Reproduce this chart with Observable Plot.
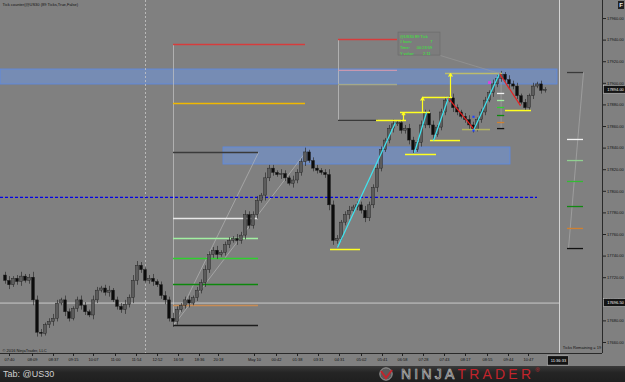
<!DOCTYPE html>
<html><head><meta charset="utf-8">
<script src="https://cdn.jsdelivr.net/npm/d3@7"></script>
<script src="https://cdn.jsdelivr.net/npm/@observablehq/plot@0.6"></script>
<style>
body{margin:0;background:#808080;overflow:hidden;font-family:"Liberation Sans",Arial,sans-serif}
#wrap{position:relative;width:625px;height:382px;background:#808080}
#chart svg{display:block}
#fbtn{position:absolute;right:1px;top:1px;width:6px;height:8px;background:#202020;color:#eee;font:bold 6px "Liberation Sans",Arial,sans-serif;line-height:8px;text-align:center}
#bar{position:absolute;left:0;top:366px;width:625px;height:16px;background:linear-gradient(#3a3a3a,#252525 40%,#1f1f1f)}
#tab{position:absolute;left:3px;top:3px;color:#d0d0d0;font-size:9px}
#logo{position:absolute;left:377px;top:1px;height:14px;display:flex;align-items:center;white-space:nowrap}
#logo .n{color:#2a2a2a;-webkit-text-stroke:0.7px #b8b8b8;font-size:14px;letter-spacing:3.2px;margin-left:4px}
#logo .t{color:#c2242c;font-size:14px;letter-spacing:3.2px}
#logo sup{color:#c2242c;font-size:6px;margin-left:1px;align-self:flex-start;margin-top:1px}
</style></head>
<body>
<div id="wrap">
  <div id="chart"></div>
  <div id="fbtn">F</div>
  <div id="bar"><span id="tab">Tab: @US30</span>
    <span id="logo"><svg width="20" height="14" viewBox="0 0 20 14"><circle cx="9" cy="7" r="6.2" fill="#5a5a5a" stroke="#9a9a9a" stroke-width="1"/><path d="M4 4 L9 11 L15 3" fill="none" stroke="#c2242c" stroke-width="2"/></svg><span class="n">NINJA</span><span class="t">TRADER</span><span style="color:#c2242c;font-size:6px;margin-left:1px;align-self:flex-start">®</span></span>
  </div>
</div>
<script>
// ---- candle closes (one bar per index) ----
const closes = [
17717,17713,17719,17716,17721,17717,17720,17699,17669,17668,
17676,17679,17682,17696,17699,17688,17682,17691,17699,17694,
17688,17685,17699,17708,17710,17706,17708,17699,17693,17690,
17695,17701,17717,17731,17727,17717,17719,17716,17713,17703,
17699,17682,17679,17690,17694,17699,17696,17701,17708,17715,
17727,17741,17745,17741,17743,17750,17754,17756,17754,17759,
17778,17768,17778,17791,17796,17812,17821,17817,17815,17816,
17812,17807,17810,17817,17827,17836,17828,17821,17819,17817,
17815,17787,17754,17756,17771,17778,17782,17785,17787,17782,
17775,17787,17803,17821,17838,17847,17858,17862,17863,17856,
17858,17847,17838,17845,17861,17872,17861,17852,17859,17873,
17884,17886,17877,17873,17869,17866,17861,17857,17866,17873,
17884,17891,17899,17904,17908,17903,17899,17897,17888,17882,
17877,17888,17897,17899,17893,17894];
const wicks = [
3,4,2,3,4,2,3,5,4,3, 2,3,4,3,2,4,3,2,3,4, 3,2,4,3,2,3,4,2,3,3,
4,3,5,4,3,2,3,4,2,3, 4,3,5,3,2,3,4,2,3,3, 4,3,3,4,2,3,3,2,4,3,
4,3,3,4,2,5,3,3,2,4, 3,2,4,3,3,4,2,3,3,2, 3,5,4,3,2,3,4,2,3,3,
4,3,3,4,3,2,3,4,2,3, 3,4,3,2,4,3,3,4,2,3, 3,2,4,3,2,3,4,3,2,3,
3,2,4,3,3,2,4,3,3,2, 3,2,3,2,3,2];
const firstOpen = 17722;

// ---- axes ----
const priceTicks = [17660,17680,17700,17720,17740,17760,17780,17800,17820,17840,17860,17880,17900,17920,17940,17960];
const timeTicks = [1,6.75,12,17,22,27.5,32.75,38,43.25,48.5,53.25,62.25,67.75,73,78.25,83.5,89,94.25,99.25,104.5,109.75,115,120.5,125.75,130.75];
const timeLabels = ["07:40","08:09","08:37","09:15","10:07","11:00","11:54","12:52","16:58","18:36","20:18","May 10","00:42","01:38","03:31","04:31","05:02","05:41","06:58","07:28","07:43","08:17","08:55","09:44","10:47"];
const xDomain = [-1.25, 149.25];
const yDomain = [17649.8, 17976.7];

// ---- left fibonacci tool ----
const fibLeftPrices = [17935.9,17881.3,17835.9,17774.8,17756.3,17737.8,17713.7,17694.3,17675.7];
const fibLeftColors = ["#d63c3c","#f0b800","#3a3a3a","#e8e8e8","#a2f0a2","#2ed02e","#0c880c","#c88c54","#1c1c1c"];
const fibLeftStart = 42;
const fibLeftEnd = [75,75,63.25,63.25,63.25,63.25,63.25,63.25,63.25];
// ---- second fibonacci tool ----
const fib2Prices = [17940.6,17911.9,17898.9,17865.6];
const fib2Colors = ["#d63c3c","#c898b0","#a4a88a","#3a3a3a"];
const fib2Start = 83.25;
const fib2End = [98,98,98,93.25];
// ---- small fib marks near last swing ----
const fibSmallPrices = [17890.6,17884.1,17877.6,17870.2,17863.7,17858.1];
const fibSmallColors = ["#f2f2f2","#a2f0a2","#2ed02e","#0c880c","#d08030","#111111"];
// ---- right panel fib ----
const fibRightPrices = [17910.0,17848.0,17828.5,17809.1,17785.9,17765.6,17747.0];
const fibRightColors = ["#3a3a3a","#f2f2f2","#90d090","#33bb33","#118811","#d08030","#111111"];

// ---- zones ----
const zoneX1 = [-1.25, 54.5];
const zoneX2 = [138, 126.25];
const zoneLow = [17898.9, 17824.8];
const zoneHigh = [17912.8, 17840.6];

// ---- swing pivots (yellow / khaki) ----
const pivX1 = [92.75,98.75,104.25,110,100,106.25,114.25,125,81.25];
const pivX2 = [100.25,106.25,111.75,124.25,107.75,113.75,121.25,131.5,88.75];
const pivPrice = [17865.6,17873.0,17886.9,17909.1,17834.1,17847.0,17857.2,17874.8,17746.1];
const pivColor = ["#ffff20","#ffff20","#ffff20","#bcbc6c","#ffff20","#ffff20","#b4b462","#ffff20","#ffff20"];
const arrowX = [99.5,104.25,111.25];
const arrowFrom = [17865.6,17873.0,17886.9];
const arrowTo = [17873.0,17886.9,17909.1];

// ---- swing legs ----
const legX1 = [83,102.25,107,117,110.75,123.5];
const legX2 = [97.5,105.25,110.75,123.5,117,128.75];
const legP1 = [17748.0,17835.9,17847.0,17856.3,17886.0,17909.1];
const legP2 = [17863.7,17873.0,17886.9,17909.1,17858.1,17879.4];
const legDir = ["up","up","up","up","down","down"];

// ---- other levels ----
const dashedLevel = 17794.3;
const dashedEnd = 133;
const whiteLevel = 17696.5;
const separatorX = 138.5;
const sessionBreakX = 35;
const lastPrice = 17894;

// ---- tooltip ----
const tipLabels = ["@US30 89 Tick","# bars:","Time:","Y value:"];
const tipValues = ["","7","00:23:59","2.11"];
const tipValueX = [0,106.2,102.8,104.4];
const tipPrices = [17943.6,17938.3,17933.0,17927.8];

// ---- build tables ----
const candles = closes.map((c, i) => {
  const o = i === 0 ? firstOpen : closes[i - 1];
  return {i, open: o, close: c, high: Math.max(o, c) + wicks[i], low: Math.min(o, c) - wicks[i], up: c >= o};
});
const fibLeft = fibLeftPrices.map((p, k) => ({p, c: fibLeftColors[k], x1: fibLeftStart, x2: fibLeftEnd[k]}));
const fib2 = fib2Prices.map((p, k) => ({p, c: fib2Colors[k], x1: fib2Start, x2: fib2End[k]}));
const fibSmall = fibSmallPrices.map((p, k) => ({p, c: fibSmallColors[k], x1: 123, x2: 124.8}));
const fibRight = fibRightPrices.map((p, k) => ({p, c: fibRightColors[k], x1: 140.5, x2: 144.5}));
const zones = zoneX1.map((x, k) => ({x1: x, x2: zoneX2[k], y1: zoneLow[k], y2: zoneHigh[k]}));
const pivots = pivX1.map((x, k) => ({x1: x, x2: pivX2[k], p: pivPrice[k], c: pivColor[k]}));
const arrows = arrowX.map((x, k) => ({x, y1: arrowFrom[k], y2: arrowTo[k]}));
const legs = legX1.map((x, k) => ({x1: x, x2: legX2[k], y1: legP1[k], y2: legP2[k], c: legDir[k] === "up" ? "#3ee6f2" : "#e82020"}));
const tips = tipLabels.map((t, k) => ({t, v: tipValues[k], vx: tipValueX[k], p: tipPrices[k]}));
const labelMap = new Map(timeTicks.map((t, k) => [t, timeLabels[k]]));
const priceTags = [{p: lastPrice, label: lastPrice.toFixed(2)}, {p: whiteLevel, label: whiteLevel.toFixed(2)}];

const chart = Plot.plot({
  width: 625, height: 366,
  marginLeft: 0, marginRight: 23, marginTop: 0, marginBottom: 13,
  style: {background: "#808080", fontFamily: "Liberation Sans, Arial, sans-serif", fontSize: "4px", color: "#111", overflow: "visible"},
  x: {domain: xDomain, axis: null},
  y: {domain: yDomain, axis: null},
  marks: [
    // zones
    Plot.rect(zones, {x1: "x1", x2: "x2", y1: "y1", y2: "y2", fill: "#6a9cf5", fillOpacity: 0.45, stroke: "#5a88e6", strokeWidth: 0.8}),
    // session break & separators
    Plot.ruleX([sessionBreakX], {stroke: "#c8c8c8", strokeDasharray: "2,2", strokeWidth: 0.8}),
    Plot.ruleX([separatorX], {stroke: "#d4d4d4", strokeWidth: 1}),
    // fib tool verticals and diagonals
    Plot.ruleX([fibLeftStart], {y1: fibLeftPrices[8], y2: fibLeftPrices[0], stroke: "#c4c4c4", strokeWidth: 0.7}),
    Plot.ruleX([fib2Start], {y1: fib2Prices[3], y2: fib2Prices[0], stroke: "#c4c4c4", strokeWidth: 0.7}),
    Plot.link([{x1: fibLeftStart, x2: fibLeftEnd[2]}, {x1: fibLeftStart, x2: fibLeftEnd[0]}], {x1: "x1", x2: "x2", y1: fibLeftPrices[8], y2: fibLeftPrices[2], stroke: "#bdbdbd", strokeWidth: 0.6}),
    Plot.link([{x1: 144.5, x2: 140.75}], {x1: "x1", x2: "x2", y1: fibRightPrices[0], y2: fibRightPrices[6], stroke: "#b0b0b0", strokeWidth: 0.6}),
    Plot.link([{x1: 123.9, x2: 123.9}], {x1: "x1", x2: "x2", y1: fibSmallPrices[0] + 18, y2: fibSmallPrices[5], stroke: "#a8a8a8", strokeWidth: 0.6}),
    // levels
    Plot.ruleY([dashedLevel], {x1: xDomain[0], x2: dashedEnd, stroke: "#0000e8", strokeDasharray: "3,2", strokeWidth: 1.2}),
    Plot.ruleY([whiteLevel], {x1: xDomain[0], x2: separatorX, stroke: "#dadada", strokeWidth: 0.8}),
    Plot.ruleY(fibLeft, {y: "p", x1: "x1", x2: "x2", stroke: "c", strokeWidth: 1.6}),
    Plot.ruleY(fib2, {y: "p", x1: "x1", x2: "x2", stroke: "c", strokeWidth: 1.3}),
    Plot.ruleY(fibSmall, {y: "p", x1: "x1", x2: "x2", stroke: "c", strokeWidth: 1.3}),
    Plot.ruleY(fibRight, {y: "p", x1: "x1", x2: "x2", stroke: "c", strokeWidth: 1.3}),
    // candles
    Plot.ruleX(candles, {x: "i", y1: "low", y2: "high", stroke: "#2c2c2c", strokeWidth: 0.7}),
    Plot.rect(candles, {x1: d => d.i - 0.36, x2: d => d.i + 0.36, y1: "open", y2: "close", fill: d => d.up ? "#5c5c5c" : "#0c0c0c", stroke: "#1a1a1a", strokeWidth: 0.4}),
    // pivots
    Plot.ruleY(pivots, {y: "p", x1: "x1", x2: "x2", stroke: "c", strokeWidth: 1.5}),
    Plot.arrow(arrows, {x1: "x", x2: "x", y1: "y1", y2: "y2", stroke: "#ffff20", strokeWidth: 1.2, headLength: 4}),
    // swing legs
    Plot.link(legs, {x1: "x1", x2: "x2", y1: "y1", y2: "y2", stroke: "c", strokeWidth: 1.2}),
    Plot.dot([{x: 121, p: 17900.7}], {x: "x", y: "p", symbol: "square", r: 1.6, fill: "#e040e0"}),
    Plot.dot([{x: 117, p: 17869.0}, {x: 117, p: 17856.3}], {x: "x", y: "p", symbol: "square", r: 1.2, fill: "#2040ff"}),
    // tooltip
    Plot.link([{x1: 108.75, x2: 123.5}], {x1: "x1", x2: "x2", y1: 17925.7, y2: 17909.1, stroke: "#9a9a9a", strokeWidth: 0.6}),
    Plot.rect([{x1: 98.25, x2: 108.75}], {x1: "x1", x2: "x2", y1: 17925.7, y2: 17947.0, fill: "#7c7c7c", stroke: "#6a6a6a", strokeWidth: 0.6}),
    Plot.text(tips, {x: 98.6, y: "p", text: "t", textAnchor: "start", fill: "#30f030", fontSize: 4}),
    Plot.text(tips, {x: "vx", y: "p", text: "v", textAnchor: "start", fill: "#30f030", fontSize: 4}),
    // frame
    Plot.ruleY([yDomain[0]], {stroke: "#2a2a2a", strokeWidth: 1}),
    Plot.ruleX([xDomain[1]], {stroke: "#2a2a2a", strokeWidth: 1}),
    // axes
    Plot.axisY({anchor: "right", ticks: priceTicks, tickFormat: d => d.toFixed(2), tickSize: 3, tickPadding: 1.5, fontSize: 4, stroke: "#222"}),
    Plot.axisX({anchor: "bottom", ticks: timeTicks, tickFormat: d => labelMap.get(d), tickSize: 3, tickPadding: 1.5, fontSize: 4, stroke: "#222"}),
    // price tags
    Plot.rect(priceTags, {x1: 149.6, x2: 155.4, y1: d => d.p - 3.6, y2: d => d.p + 3.6, fill: "#141414", stroke: "#cfcfcf", strokeWidth: 0.5}),
    Plot.text(priceTags, {x: 152.5, y: "p", text: "label", fill: "#f4f4f4", fontSize: 4}),
    Plot.rect([{t: "11:36:33"}], {x1: 135.6, x2: 140.9, y1: 17638.6, y2: 17647.2, fill: "#141414", stroke: "#cfcfcf", strokeWidth: 0.5}),
    Plot.text([{t: "11:36:33"}], {x: 138.25, y: 17642.9, text: "t", fill: "#f4f4f4", fontSize: 4}),
    // texts
    Plot.text(["Tick counter(@US30 (89 Ticks,True,False)"], {frameAnchor: "top-left", dx: 2, dy: 3, fill: "#111", fontSize: 4}),
    Plot.text(["© 2016 NinjaTrader, LLC"], {frameAnchor: "bottom-left", dx: 2, dy: -2, fill: "#111", fontSize: 4}),
    Plot.text(["Ticks Remaining = 19"], {x: 139.3, frameAnchor: "bottom", textAnchor: "start", dy: -5, fill: "#111", fontSize: 4})
  ]
});
document.getElementById("chart").appendChild(chart);
</script>
</body></html>
